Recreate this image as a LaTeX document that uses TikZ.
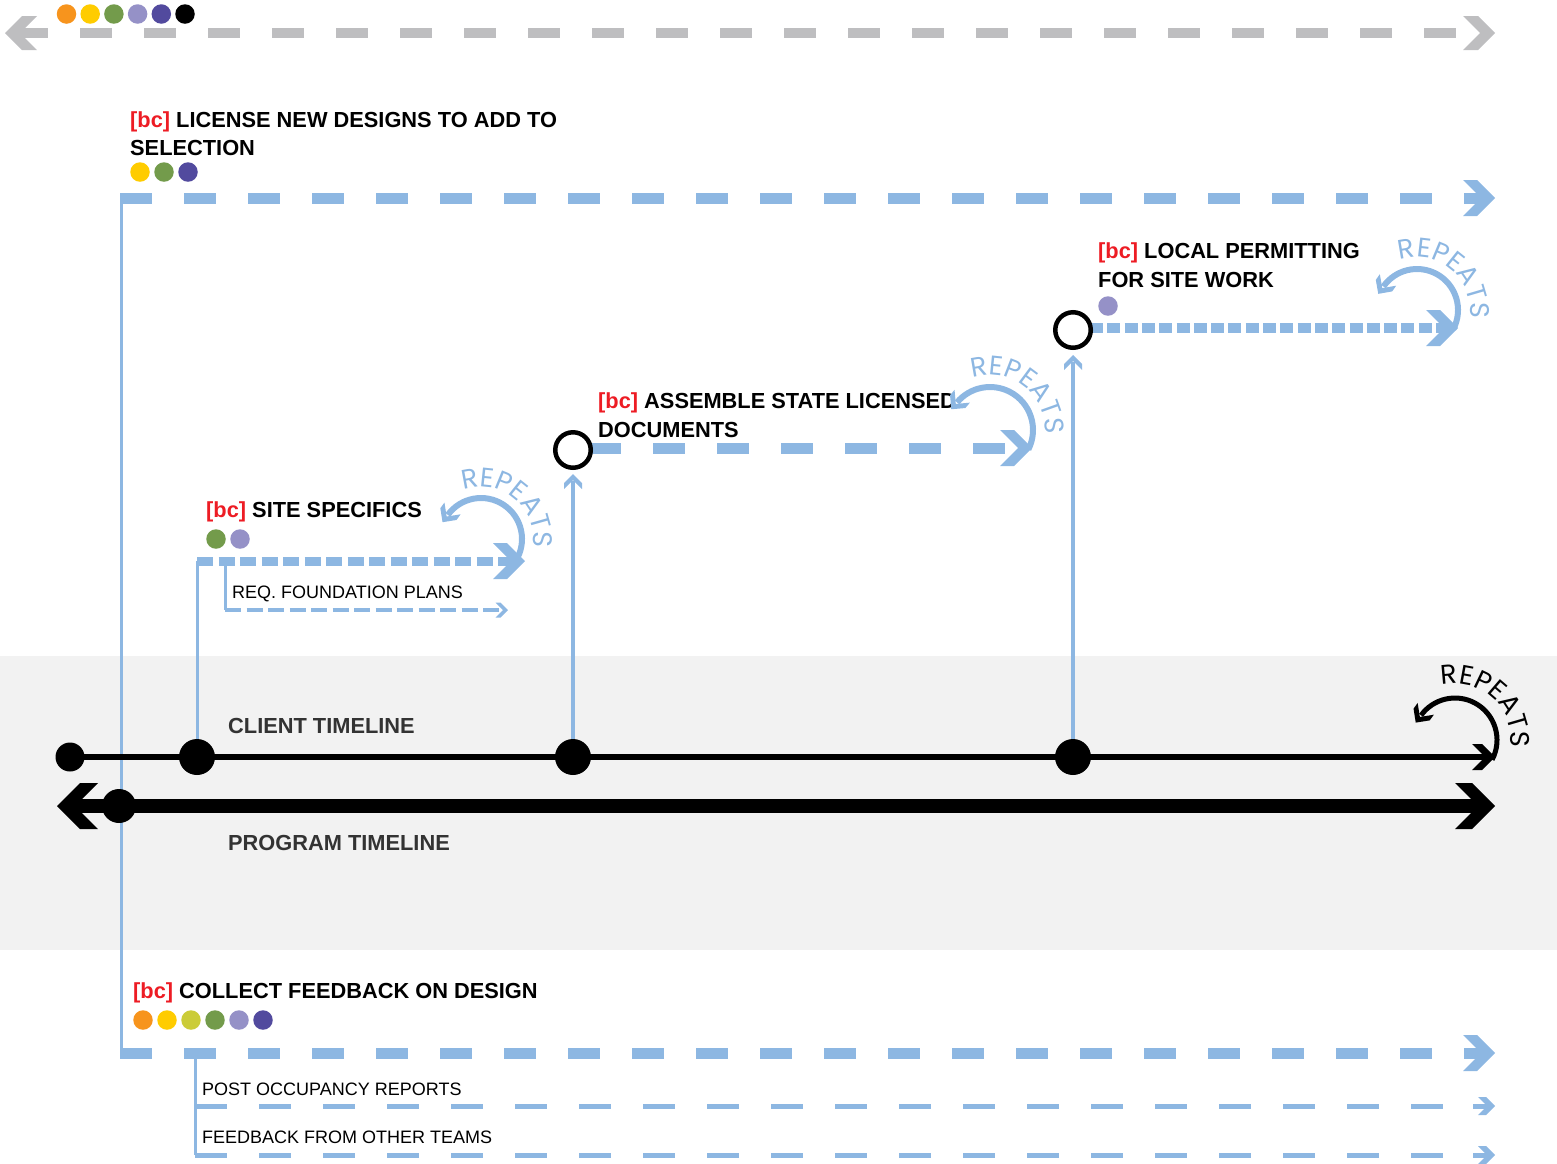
\documentclass[tikz,border=0pt]{standalone}
\usepackage{fontspec}
\setmainfont{Liberation Sans}
\newfontfamily\repfont{Poppins}
\usetikzlibrary{calc,decorations.text}
\definecolor{lb}{RGB}{141,183,226}
\definecolor{gr}{RGB}{190,190,192}
\definecolor{bcred}{RGB}{237,28,36}
\definecolor{band}{RGB}{242,242,242}
\definecolor{tgrey}{RGB}{51,51,51}
\definecolor{dorange}{RGB}{247,148,29}
\definecolor{dyellow}{RGB}{255,204,0}
\definecolor{dlime}{RGB}{203,204,56}
\definecolor{dgreen}{RGB}{115,155,75}
\definecolor{dlilac}{RGB}{149,145,199}
\definecolor{dpurple}{RGB}{82,74,158}
% chevron arrow head: tip x, tip y, rotation, half height, thickness, colour
\newcommand\chev[6]{\fill[#6,shift={(#1,#2)},rotate=#3] (0,0) -- (-#4,#4) -- (-#4-#5,#4) -- (-#5,0) -- (-#4-#5,-#4) -- (-#4,-#4) -- cycle;}
\newcommand\repfmtblue{\repfont\fontsize{27}{29}\selectfont\color{lb}}
\newcommand\repfmtblack{\repfont\fontsize{27}{29}\selectfont\color{black}}
% repeat arc: cx, cy, r, start angle, end angle (tip), colour, width
\newcommand\reparc[7]{%
  \draw[#6,line width=#7] ($(#1,#2)+(#4:#3)$) arc[start angle=#4,end angle=#5,radius=#3];
  \fill[#6,shift={($(#1,#2)+(#5:#3)$)},rotate=#5+90] (9,0) -- (-1,10) -- (-8,10) -- (2,0) -- (-8,-10) -- (-1,-10) -- cycle;}
% curved label: cx, cy, baseline radius, middle angle, format
\newcommand\reptext[5]{%
  \path[decorate,decoration={text along path,text align=center,text={|#5|REPEATS}}] ($(#1,#2)+(#4+85:#3)$) arc[start angle=#4+85,end angle=#4-85,radius=#3];}
\begin{document}
\begin{tikzpicture}[x=1pt,y=1pt,
  ttl/.style={anchor=base west,inner sep=0pt,font=\bfseries\fontsize{21.8}{26}\selectfont},
  subtxt/.style={anchor=base west,inner sep=0pt,font=\fontsize{18}{22}\selectfont},
  tline/.style={ttl,text=tgrey},
  dotc/.style={circle,fill=#1,minimum size=19.5pt,inner sep=0pt},
  bigdash/.style={lb,line width=11pt,dash pattern=on 32pt off 32pt},
  greydash/.style={gr,line width=10pt,dash pattern=on 32pt off 32pt},
  sitedash/.style={lb,line width=9pt,dash pattern=on 16pt off 5.5pt},
  permdash/.style={lb,line width=10pt,dash pattern=on 13pt off 4.3pt},
  subdash/.style={lb,line width=5pt,dash pattern=on 32pt off 32pt},
  reqdash/.style={lb,line width=4.5pt,dash pattern=on 16pt off 5.5pt},
  link/.style={lb,line width=3pt},
  upline/.style={lb,line width=4pt},
  milestone/.style={circle,fill=black,minimum size=#1,inner sep=0pt},
  openmile/.style={circle,draw=black,line width=4.5pt,fill=white,minimum size=35.5pt,inner sep=0pt}]
\useasboundingbox (0,0) rectangle (1557,-1163);
\fill[band] (0,-656) rectangle (1557,-950);

% ---------- legend line ----------
\coordinate (g0) at (16,-33); \coordinate (g1) at (1458,-33);
\draw[greydash] (g0) -- (g1);
\chev{1495}{-33}{0}{17}{15}{gr}
\chev{5}{-33}{180}{17}{15}{gr}
\foreach \c [count=\i] in {dorange,dyellow,dgreen,dlilac,dpurple,black}
  \node[dotc=\c] (leg\i) at ({66.5+(\i-1)*23.7},-14) {};

% ---------- coordinates ----------
\coordinate (ct0) at (70,-757);  \coordinate (ct1) at (1487,-757);
\coordinate (pt0) at (70,-806);  \coordinate (pt1) at (1482,-806);
\coordinate (cm1) at (197,-757); \coordinate (cm2) at (573,-757); \coordinate (cm3) at (1073,-757);
\coordinate (pm) at (119,-806);
\coordinate (lv0) at (120,-198); \coordinate (lv1) at (1482,-198);
\coordinate (lk0) at (121.5,-198); \coordinate (lk1) at (121.5,-1053);
\coordinate (k0) at (120,-1053); \coordinate (k1) at (1482,-1053);
\coordinate (s0) at (197,-561);  \coordinate (s1) at (512,-561);
\coordinate (r0) at (225,-561);  \coordinate (r1) at (225,-610); \coordinate (r2) at (503,-610);
\coordinate (am) at (573,-450);  \coordinate (a0) at (589,-448); \coordinate (a1) at (1019,-448);
\coordinate (ua) at (573,-481);
\coordinate (lm) at (1073,-330); \coordinate (p0) at (1090,-328); \coordinate (p1) at (1445,-328);
\coordinate (ul) at (1073,-362);
\coordinate (sv0) at (195.5,-1053); \coordinate (sv1) at (195.5,-1155);
\coordinate (q0) at (195,-1106); \coordinate (q1) at (1443,-1106);
\coordinate (q2) at (1473,-1106); \coordinate (q3) at (1489,-1106);
\coordinate (w0) at (195,-1155); \coordinate (w1) at (1443,-1155);
\coordinate (w2) at (1473,-1155); \coordinate (w3) at (1489,-1155);

% ---------- license designs ----------
\node[ttl] (lic1) at (130,-127) {\textcolor{bcred}{[bc]} LICENSE NEW DESIGNS TO ADD TO};
\node[ttl] (lic2) at (130,-155) {SELECTION};
\foreach \c [count=\i] in {dyellow,dgreen,dpurple}
  \node[dotc=\c] (licd\i) at ({140+(\i-1)*24},-172) {};
\draw[bigdash] (lv0) -- (lv1);
\chev{1495}{-198}{0}{18}{14}{lb}
\draw[link] (lk0) -- (lk1);

% ---------- site specifics ----------
\node[ttl] (site) at (206,-517) {\textcolor{bcred}{[bc]} SITE SPECIFICS};
\node[dotc=dgreen] (sited1) at (216,-539) {};
\node[dotc=dlilac] (sited2) at (240,-539) {};
\draw[sitedash] (s0) -- (s1);
\chev{525}{-561}{0}{18}{14}{lb}
\draw[link] (cm1) -- (s0);
\draw[link] (r0) -- (r1);
\draw[reqdash] (r1) -- (r2);
\chev{508}{-610}{0}{7.5}{5}{lb}
\node[subtxt] (req) at (232,-598) {REQ. FOUNDATION PLANS};
\reparc{481}{-539}{41}{-33}{144}{lb}{6pt}
\reptext{481}{-539}{52}{50}{\repfmtblue}

% ---------- assemble documents ----------
\node[ttl] (asm1) at (598,-408) {\textcolor{bcred}{[bc]} ASSEMBLE STATE LICENSED};
\node[ttl] (asm2) at (598,-437) {DOCUMENTS};
\draw[bigdash] (a0) -- (a1);
\chev{1032}{-448}{0}{18}{14}{lb}
\draw[upline] (cm2) -- (ua);
\chev{573}{-474}{90}{9}{6}{lb}
\reparc{990}{-430}{43}{-27}{140}{lb}{6pt}
\reptext{990}{-430}{55}{52}{\repfmtblue}

% ---------- local permitting ----------
\node[ttl] (loc1) at (1098,-258) {\textcolor{bcred}{[bc]} LOCAL PERMITTING};
\node[ttl] (loc2) at (1098,-287) {FOR SITE WORK};
\node[dotc=dlilac] (locd) at (1108,-306) {};
\draw[permdash] (p0) -- (p1);
\chev{1458}{-328}{0}{18}{14}{lb}
\draw[upline] (cm3) -- (ul);
\chev{1073}{-355}{90}{9}{6}{lb}
\reparc{1417}{-310}{41}{-28}{145}{lb}{6pt}
\reptext{1417}{-310}{53}{50}{\repfmtblue}

% ---------- timelines ----------
\draw[black,line width=6pt] (ct0) -- (ct1);
\chev{1495}{-757}{0}{13}{10}{black}
\draw[black,line width=14pt] (pt0) -- (pt1);
\chev{1495}{-806}{0}{23}{17}{black}
\chev{57}{-806}{180}{23}{18}{black}
\node[milestone=29pt] (c0) at (ct0) {};
\node[milestone=36pt] (c1) at (cm1) {};
\node[milestone=36pt] (c2) at (cm2) {};
\node[milestone=36pt] (c3) at (cm3) {};
\node[milestone=34pt] (pd) at (pm) {};
\node[openmile] (amile) at (am) {};
\node[openmile] (lmile) at (lm) {};
\node[tline] (clientlbl) at (228,-733) {CLIENT TIMELINE};
\node[tline] (proglbl) at (228,-850) {PROGRAM TIMELINE};
\reparc{1455}{-740}{42}{-28}{144}{black}{5pt}
\reptext{1455}{-740}{56}{48}{\repfmtblack}

% ---------- collect feedback ----------
\node[ttl] (col) at (133,-998) {\textcolor{bcred}{[bc]} COLLECT FEEDBACK ON DESIGN};
\foreach \c [count=\i] in {dorange,dyellow,dlime,dgreen,dlilac,dpurple}
  \node[dotc=\c] (cold\i) at ({143+(\i-1)*24},-1020) {};
\draw[bigdash] (k0) -- (k1);
\chev{1495}{-1053}{0}{18}{14}{lb}
\draw[link] (sv0) -- (sv1);
\draw[subdash] (q0) -- (q1);
\draw[lb,line width=5pt] (q2) -- (q3);
\chev{1495}{-1106}{0}{9}{8}{lb}
\draw[subdash] (w0) -- (w1);
\draw[lb,line width=5pt] (w2) -- (w3);
\chev{1495}{-1155}{0}{9}{8}{lb}
\node[subtxt] (post) at (202,-1095) {POST OCCUPANCY REPORTS};
\node[subtxt] (fbt) at (202,-1143) {FEEDBACK FROM OTHER TEAMS};
\end{tikzpicture}
\end{document}
